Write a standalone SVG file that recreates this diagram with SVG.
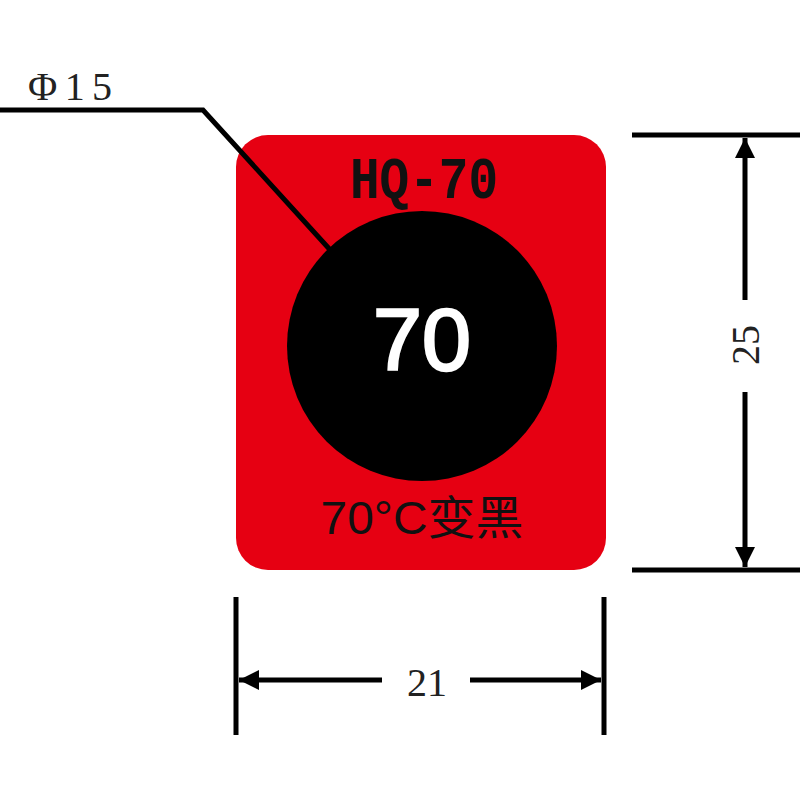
<svg xmlns="http://www.w3.org/2000/svg" width="800" height="800" viewBox="0 0 800 800">
<style>
.dim{stroke:#000;stroke-width:5;fill:none}
.serif{font-family:"Liberation Serif","DejaVu Serif",serif;fill:#222}
</style>
<defs>
<marker id="ah" viewBox="0 0 10 10" refX="10" refY="5" markerWidth="5" markerHeight="4" markerUnits="strokeWidth" orient="auto">
<path d="M0,0 L10,5 L0,10 Z" fill="#000"/>
</marker>
</defs>
<rect width="800" height="800" fill="#fff"/>
<g id="label">
<rect x="236" y="135" width="370" height="435" rx="32" fill="#e60012"/>
<text x="424" y="198" text-anchor="middle" font-family="Liberation Mono,DejaVu Sans Mono,monospace" font-size="60" font-weight="bold" fill="#111" textLength="148" lengthAdjust="spacingAndGlyphs">HQ-70</text>
<circle cx="422" cy="346" r="135" fill="#000"/>
<text x="422" y="370" text-anchor="middle" font-family="Liberation Sans,Arial,sans-serif" font-size="88" fill="#fff" stroke="#fff" stroke-width="2.5">70</text>
<text x="422" y="534" text-anchor="middle" font-family="Liberation Sans,'Noto Sans CJK SC',sans-serif" font-size="46" fill="#111" textLength="203" lengthAdjust="spacingAndGlyphs">70°C变黑</text>
</g>
<g id="connectors">
<polyline class="dim" points="0,110 203,110 333,253" stroke-width="4"/>
<line class="dim" x1="632" y1="135" x2="800" y2="135"/>
<line class="dim" x1="632" y1="570" x2="800" y2="570"/>
<line class="dim" x1="745" y1="300" x2="745" y2="138" marker-end="url(#ah)"/>
<line class="dim" x1="745" y1="392" x2="745" y2="567" marker-end="url(#ah)"/>
<line class="dim" x1="236" y1="597" x2="236" y2="735"/>
<line class="dim" x1="604" y1="597" x2="604" y2="735"/>
<line class="dim" x1="382" y1="680" x2="239" y2="680" marker-end="url(#ah)"/>
<line class="dim" x1="470" y1="680" x2="601" y2="680" marker-end="url(#ah)"/>
</g>
<g id="texts">
<text class="serif" x="28" y="100" font-size="40" textLength="84" lengthAdjust="spacing">Φ15</text>
<text class="serif" x="0" y="0" font-size="40" text-anchor="middle" transform="translate(759,345) rotate(-90)">25</text>
<text class="serif" x="427" y="696" font-size="40" text-anchor="middle">21</text>
</g>
</svg>
